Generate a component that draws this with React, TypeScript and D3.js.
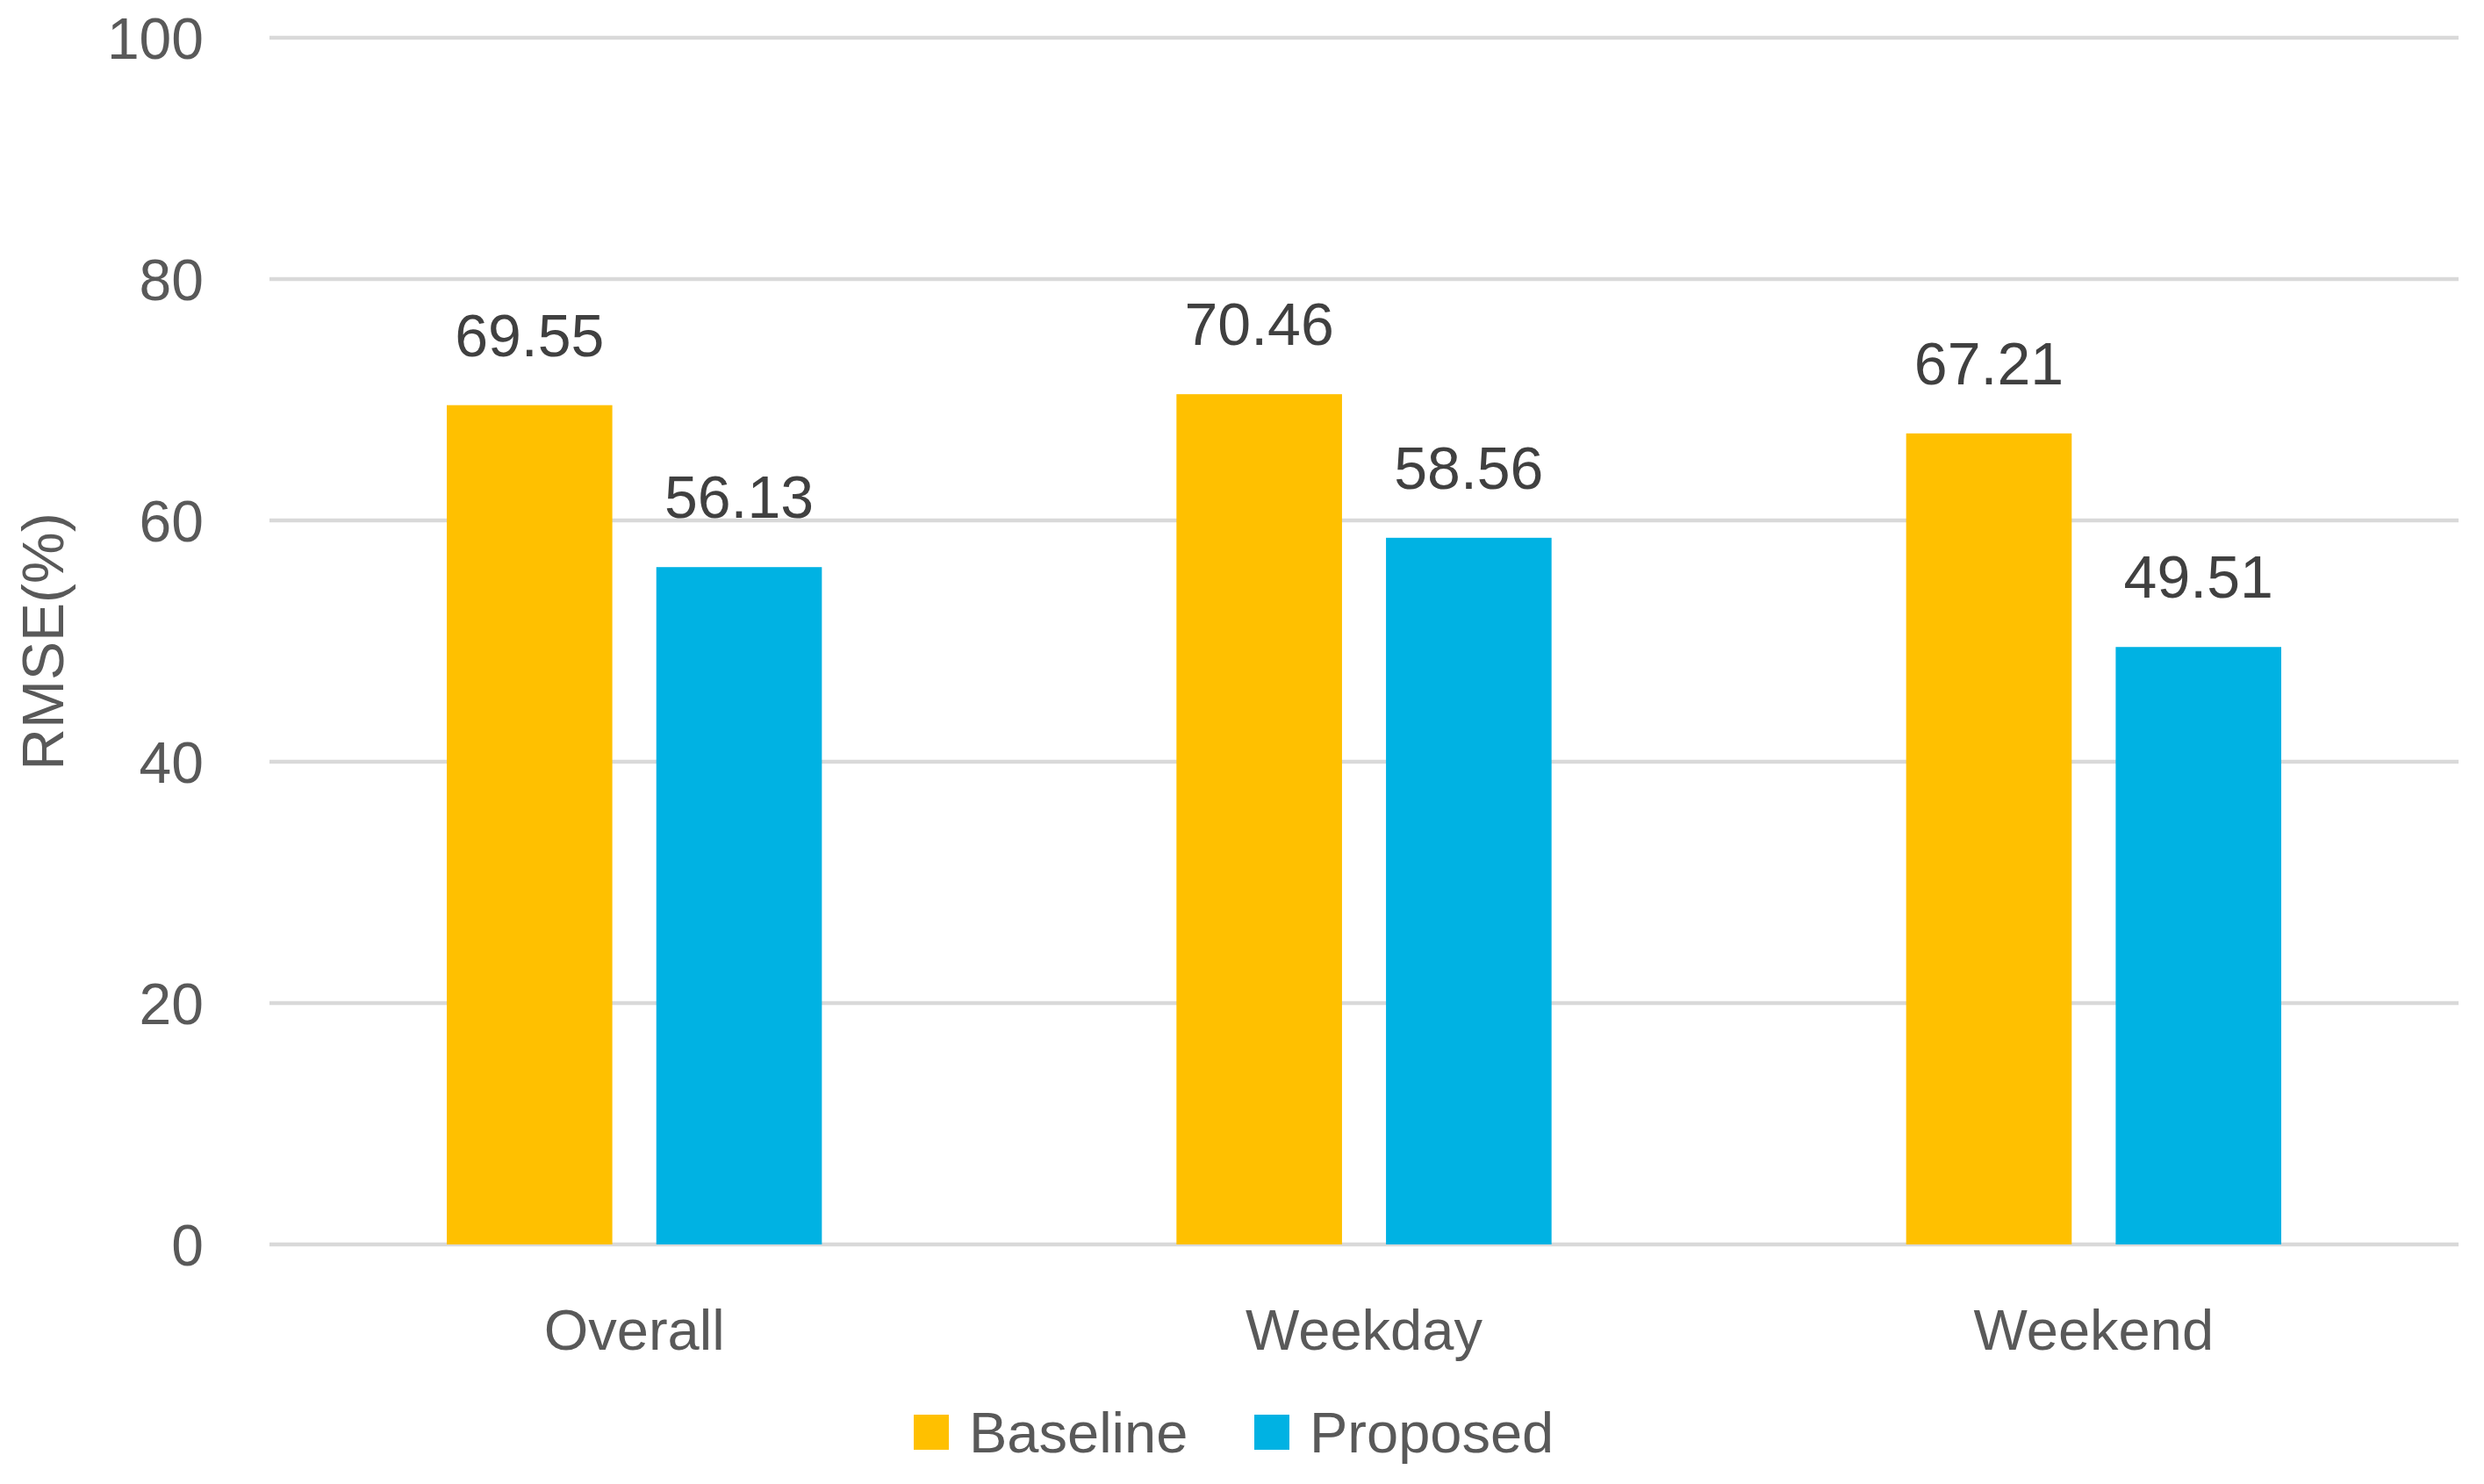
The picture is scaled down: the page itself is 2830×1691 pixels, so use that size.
import React, { useRef, useEffect } from 'react';
import * as d3 from 'd3';

const categories = ['Overall', 'Weekday', 'Weekend'];
const seriesNames = ['Baseline', 'Proposed'];
const baselineValues = [69.55, 70.46, 67.21];
const proposedValues = [56.13, 58.56, 49.51];
const yTicks = [0, 20, 40, 60, 80, 100];
const colors = ['#FFC000', '#00B2E3'];

export default function App() {
  const ref = useRef<SVGSVGElement>(null);

  useEffect(() => {
    document.body.style.margin = '0';
    const width = 2830, height = 1691;
    const margin = { top: 43, right: 29, bottom: 273, left: 307 };
    const innerW = width - margin.left - margin.right;
    const innerH = height - margin.top - margin.bottom;
    const font = '"Liberation Sans", Arial, sans-serif';

    const svg = d3.select(ref.current);
    svg.selectAll('*').remove();
    svg.append('rect').attr('width', width).attr('height', height).attr('fill', '#fff');

    const g = svg.append('g').attr('transform', `translate(${margin.left},${margin.top})`);

    const x = d3.scaleBand().domain(categories).range([0, innerW]).paddingInner(0).paddingOuter(0);
    // two bars per group, a gap between them
    const x1 = d3.scaleBand().domain(seriesNames).range([202, x.bandwidth() - 202]).paddingInner(0.21);
    const y = d3.scaleLinear().domain([0, 100]).range([innerH, 0]);

    // gridlines
    g.selectAll('.grid')
      .data(yTicks)
      .enter()
      .append('line')
      .attr('x1', 0)
      .attr('x2', innerW)
      .attr('y1', (d) => y(d))
      .attr('y2', (d) => y(d))
      .attr('stroke', '#d9d9d9')
      .attr('stroke-width', 4.5);

    // y tick labels
    g.selectAll('.ytick')
      .data(yTicks)
      .enter()
      .append('text')
      .attr('x', -75)
      .attr('y', (d) => y(d))
      .attr('dy', '0.36em')
      .attr('text-anchor', 'end')
      .attr('font-family', font)
      .attr('font-size', 66)
      .attr('fill', '#595959')
      .text((d) => d);

    const rows = categories.map((c, i) => ({
      cat: c,
      vals: [baselineValues[i], proposedValues[i]],
    }));

    const groups = g.selectAll('.group')
      .data(rows)
      .enter()
      .append('g')
      .attr('transform', (d) => `translate(${x(d.cat)},0)`);

    groups.selectAll('rect')
      .data((d) => d.vals.map((v, j) => ({ name: seriesNames[j], v, j })))
      .enter()
      .append('rect')
      .attr('x', (d) => x1(d.name)!)
      .attr('width', x1.bandwidth())
      .attr('y', (d) => y(d.v))
      .attr('height', (d) => innerH - y(d.v))
      .attr('fill', (d) => colors[d.j]);

    groups.selectAll('.val')
      .data((d) => d.vals.map((v, j) => ({ name: seriesNames[j], v })))
      .enter()
      .append('text')
      .attr('x', (d) => x1(d.name)! + x1.bandwidth() / 2)
      .attr('y', (d) => y(d.v) - 56)
      .attr('text-anchor', 'middle')
      .attr('font-family', font)
      .attr('font-size', 68)
      .attr('fill', '#404040')
      .text((d) => d.v.toFixed(2));

    // category labels
    g.selectAll('.cat')
      .data(categories)
      .enter()
      .append('text')
      .attr('x', (d) => x(d)! + x.bandwidth() / 2)
      .attr('y', innerH + 120)
      .attr('text-anchor', 'middle')
      .attr('font-family', font)
      .attr('font-size', 65)
      .attr('fill', '#595959')
      .text((d) => d);

    // axis title
    svg.append('text')
      .attr('transform', `translate(72,731) rotate(-90)`)
      .attr('text-anchor', 'middle')
      .attr('font-family', font)
      .attr('font-size', 66)
      .attr('fill', '#595959')
      .text('RMSE(%)');

    // legend
    const legendX = [1041, 1429];
    const legend = svg.selectAll('.legend')
      .data(seriesNames)
      .enter()
      .append('g')
      .attr('transform', (d, i) => `translate(${legendX[i]},1612)`);
    legend.append('rect')
      .attr('width', 40)
      .attr('height', 40)
      .attr('fill', (d, i) => colors[i]);
    legend.append('text')
      .attr('x', 63)
      .attr('y', 43)
      .attr('font-family', font)
      .attr('font-size', 65)
      .attr('fill', '#595959')
      .text((d) => d);
  }, []);

  return <svg ref={ref} width={2830} height={1691} style={{ display: 'block' }} />;
}
